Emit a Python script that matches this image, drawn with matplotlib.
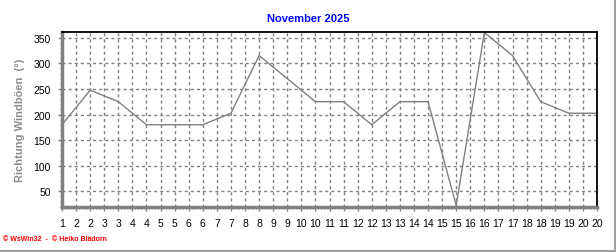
import numpy as np
import matplotlib
matplotlib.use("Agg")
import matplotlib.pyplot as plt
from matplotlib.lines import Line2D
from matplotlib.ticker import MultipleLocator

# wind gust direction per day, November 2025 (degrees)
days = list(range(1, 21))
direction = [180, 247.5, 225, 180, 180, 180, 202.5, 315, 270, 225,
             225, 180, 225, 225, 22.5, 360, 315, 225, 202.5, 202.5]

# the x axis has a grid line every half day, labels rounded up
x_ticks = [1 + 0.5 * i for i in range(39)]
x_labels = ["1", "2", "2", "3", "3", "4", "4", "5", "5", "6", "6", "7", "7",
            "8", "8", "9", "9", "10", "10", "11", "11", "12", "12", "13", "13",
            "14", "14", "15", "15", "16", "16", "17", "17", "18", "18", "19",
            "19", "20", "20"]
y_ticks = [50, 100, 150, 200, 250, 300, 350]

plt.rcParams["font.family"] = ["Liberation Sans", "DejaVu Sans"]

fig = plt.figure(figsize=(6.16, 2.53), dpi=100)
ax = fig.add_axes([62 / 616, 1 - 208 / 253, 535 / 616, 175 / 253])

ax.plot(days, direction, color="#808080", linewidth=1)

ax.set_xlim(1, 20)
ax.set_ylim(19.5, 361)
ax.set_xticks(x_ticks)
ax.set_xticklabels(x_labels)
ax.set_yticks(y_ticks)
ax.xaxis.set_minor_locator(MultipleLocator(0.1))
ax.yaxis.set_minor_locator(MultipleLocator(10))

ax.grid(True, which="major", color="#808080", linestyle=(0, (2.2, 2.2)), linewidth=1)
ax.tick_params(axis="both", which="major", labelsize=7.5, length=3, width=1,
               color="#808080", pad=5)
ax.tick_params(axis="both", which="minor", length=1.5, width=0.7, color="#808080")

for side in ("left", "bottom"):
    ax.spines[side].set_color("#808080")
    ax.spines[side].set_linewidth(2.5)
for side in ("top", "right"):
    ax.spines[side].set_color("black")
    ax.spines[side].set_linewidth(1.3)

ax.set_ylabel("Richtung Windböen  (°)", color="#8c8c8c", fontsize=8,
              fontweight="bold")
ax.yaxis.set_label_coords(-37 / 535, 0.5)

fig.text(0.5, 1 - 19 / 253, "November 2025", ha="center", va="center",
         color="#0000ff", fontsize=8, fontweight="bold")
fig.text(3 / 616, 1 - 240 / 253, "© WsWin32  -  © Heiko Blädorn", ha="left",
         va="center", color="#ff0000", fontsize=5, fontweight="bold")

# grey frame along the right and bottom edge
fig.add_artist(Line2D([614.5 / 616, 614.5 / 616], [1 - 251.5 / 253, 1],
                      transform=fig.transFigure, color="#a0a0a0", linewidth=1.5))
fig.add_artist(Line2D([0, 614.5 / 616], [1 - 251.5 / 253, 1 - 251.5 / 253],
                      transform=fig.transFigure, color="#a0a0a0", linewidth=1.5))

fig.savefig("out.png", dpi=100)
